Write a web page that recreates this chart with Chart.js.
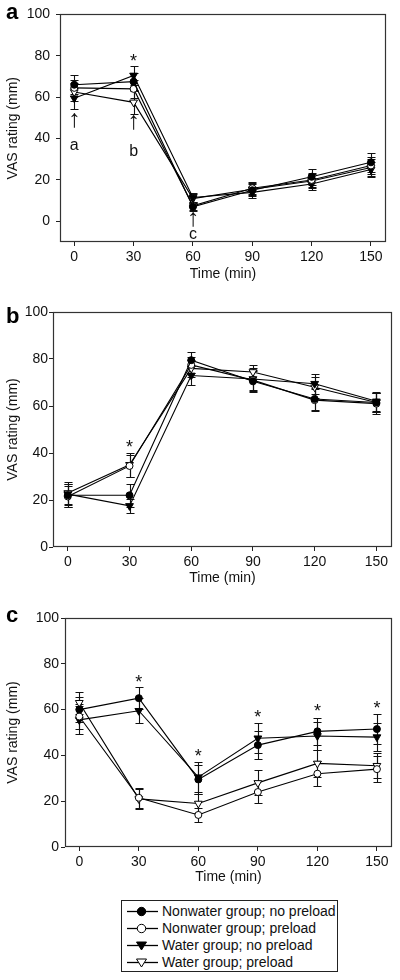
<!DOCTYPE html>
<html>
<head>
<meta charset="utf-8">
<script src="https://cdn.jsdelivr.net/npm/chart.js@4.4.1/dist/chart.umd.min.js"></script>
<style>
  html, body { margin: 0; padding: 0; background: #fff; }
  body { width: 400px; height: 980px; position: relative; overflow: hidden;
         font-family: "Liberation Sans", Arial, Helvetica, sans-serif; }
  canvas { position: absolute; left: 0; }
  #legend { position: absolute; left: 121px; top: 900px; width: 215px; height: 70px;
            border: 1px solid #222; }
  .lrow { position: absolute; left: 0; height: 17px; line-height: 17px; font-size: 14px; color: #111; white-space: nowrap; }
  .lrow svg { position: absolute; left: 0; top: 0; }
  .lrow span { position: absolute; left: 40px; top: 0; }
</style>
</head>
<body>
<canvas id="chartA" width="400" height="300" style="top:0px"></canvas>
<canvas id="chartB" width="400" height="300" style="top:300px"></canvas>
<canvas id="chartC" width="400" height="300" style="top:600px"></canvas>
<div id="legend"></div>

<script>
// ---------------- DATA ----------------
const TIMES = [0, 30, 60, 90, 120, 150];
const X_TICKS = [0, 30, 60, 90, 120, 150];
const Y_TICKS = [0, 20, 40, 60, 80, 100];
const SERIES_NAMES = [
  'Nonwater group; no preload',
  'Nonwater group; preload',
  'Water group; no preload',
  'Water group; preload'
];
const X_TITLE = 'Time (min)';
const Y_TITLE = 'VAS rating (mm)';

// Panel a
const A_NONWATER_NOPRELOAD = [66, 67.5, 7, 15, 21.5, 28.5];
const A_NONWATER_PRELOAD   = [64.5, 64, 7.5, 16, 20, 27];
const A_WATER_NOPRELOAD    = [59.5, 70.5, 11.5, 14, 18, 25];
const A_WATER_PRELOAD      = [62.5, 57.5, 11, 15.5, 19.5, 26];
const A_ERR_NONWATER_NOPRELOAD = [4.5, 4, 2, 3, 4, 4.5];
const A_ERR_NONWATER_PRELOAD   = [4, 4.5, 2, 3, 3.5, 4];
const A_ERR_WATER_NOPRELOAD    = [5, 4.5, 2, 2.5, 3, 3.5];
const A_ERR_WATER_PRELOAD      = [4.5, 5.5, 2, 3, 3.5, 4];

// Panel b
const B_NONWATER_NOPRELOAD = [22, 22, 79.5, 70.5, 63, 61.5];
const B_NONWATER_PRELOAD   = [21.5, 34.5, 77.5, 71, 62.5, 61];
const B_WATER_NOPRELOAD    = [22.5, 17.5, 73, 71.5, 69.5, 62];
const B_WATER_PRELOAD      = [23, 35, 76, 74.5, 68, 61.5];
const B_ERR_NONWATER_NOPRELOAD = [5, 4.8, 3.3, 4.5, 4.5, 4.2];
const B_ERR_NONWATER_PRELOAD   = [4.5, 4.5, 3.5, 4.5, 4.8, 4.5];
const B_ERR_WATER_NOPRELOAD    = [4.5, 3, 4, 4.5, 4.2, 4];
const B_ERR_WATER_PRELOAD      = [4.8, 5.2, 3.5, 3, 4.5, 4];

// Panel c
const C_NONWATER_NOPRELOAD = [60, 65, 29.5, 44.5, 50.5, 51.5];
const C_NONWATER_PRELOAD   = [57, 21.5, 14, 24, 32, 34];
const C_WATER_NOPRELOAD    = [55.5, 59.5, 30.5, 47.5, 48.5, 48];
const C_WATER_PRELOAD      = [63, 21, 19, 28, 36.5, 35.5];
const C_ERR_NONWATER_NOPRELOAD = [5.5, 4.8, 6.5, 6, 6, 6.5];
const C_ERR_NONWATER_PRELOAD   = [5.5, 4.3, 3, 4.7, 5.4, 5.8];
const C_ERR_WATER_NOPRELOAD    = [6, 5.5, 6.5, 6.5, 6, 6];
const C_ERR_WATER_PRELOAD      = [4.8, 4.5, 4.3, 5.5, 6, 5.5];

// Annotations (data units)
const A_STARS = [[30, 79.5]];
const A_NOTES = [[0, 49, '↑'], [30, 48, '↑'], [60, 1, '↑'], [0, 36.5, 'a'], [30, 33.6, 'b'], [60, -6.3, 'c']];
const B_STARS = [[30, 44.4]];
const C_STARS = [[30, 74], [60, 41.6], [90, 58.4], [120, 61.3], [150, 62.4]];

// ---------------- STYLE ----------------
const FONT = '"Liberation Sans", Arial, Helvetica, sans-serif';
const MARKERS = [
  { style: 'circle',   rot: 0,   r: 3.5, fill: '#000' },
  { style: 'circle',   rot: 0,   r: 3.5, fill: '#fff' },
  { style: 'triangle', rot: 180, r: 4.5, fill: '#000' },
  { style: 'triangle', rot: 180, r: 4.5, fill: '#fff' }
];

const deco = {
  id: 'deco',
  beforeDatasetsDraw(chart) {
    const { ctx, scales: { x, y } } = chart;
    ctx.save();
    ctx.strokeStyle = '#111';
    ctx.lineWidth = 1.1;
    chart.data.datasets.forEach(ds => {
      ds.data.forEach((p, i) => {
        const e = ds.err[i];
        const px = Math.round(x.getPixelForValue(p.x)) + 0.5;
        const y1 = Math.round(y.getPixelForValue(p.y + e)) + 0.5;
        const y2 = Math.round(y.getPixelForValue(p.y - e)) + 0.5;
        ctx.beginPath();
        ctx.moveTo(px, y1); ctx.lineTo(px, y2);
        ctx.moveTo(px - 4, y1); ctx.lineTo(px + 4, y1);
        ctx.moveTo(px - 4, y2); ctx.lineTo(px + 4, y2);
        ctx.stroke();
      });
    });
    ctx.restore();
  },
  afterDraw(chart, args, opts) {
    const { ctx, chartArea: a, scales: { x, y } } = chart;
    ctx.save();
    // frame
    ctx.strokeStyle = '#333';
    ctx.lineWidth = 1.2;
    const l = Math.round(a.left) + 0.5, t = Math.round(a.top) + 0.5;
    const r = Math.round(a.right) - 0.5, b = Math.round(a.bottom) - 0.5;
    ctx.strokeRect(l, t, r - l, b - t);
    // stars
    ctx.fillStyle = '#111';
    ctx.textAlign = 'center';
    ctx.textBaseline = 'alphabetic';
    ctx.font = '18px ' + FONT;
    (opts.stars || []).forEach(s => {
      ctx.fillText('*', x.getPixelForValue(s[0]), y.getPixelForValue(s[1]) + 10);
    });
    // notes
    ctx.textBaseline = 'middle';
    (opts.notes || []).forEach(n => {
      ctx.font = (n[2] === '↑' ? '25px ' : '16px ') + FONT;
      ctx.fillText(n[2], x.getPixelForValue(n[0]), y.getPixelForValue(n[1]));
    });
    // panel letter
    ctx.textAlign = 'left';
    ctx.textBaseline = 'alphabetic';
    ctx.font = 'bold 22px ' + FONT;
    ctx.fillStyle = '#000';
    ctx.fillText(opts.letter, opts.lx, opts.ly);
    ctx.restore();
  }
};

function buildChart(id, p) {
  const datasets = p.values.map((vals, i) => ({
    label: SERIES_NAMES[i],
    data: TIMES.map((t, j) => ({ x: t, y: vals[j] })),
    err: p.errors[i],
    borderColor: '#000',
    borderWidth: 1.1,
    tension: 0,
    fill: false,
    pointStyle: MARKERS[i].style,
    rotation: MARKERS[i].rot,
    pointRadius: MARKERS[i].r,
    pointHoverRadius: MARKERS[i].r,
    pointBackgroundColor: MARKERS[i].fill,
    pointBorderColor: '#000',
    pointBorderWidth: 1
  }));
  return new Chart(document.getElementById(id), {
    type: 'line',
    data: { datasets },
    options: {
      responsive: false,
      animation: false,
      devicePixelRatio: 1,
      layout: { padding: p.pad },
      events: [],
      plugins: {
        legend: { display: false },
        tooltip: { enabled: false },
        deco: { stars: p.stars, notes: p.notes, letter: p.letter, lx: p.lx, ly: p.ly }
      },
      scales: {
        x: {
          type: 'linear', min: -7.2, max: 157.6,
          afterBuildTicks: s => { s.ticks = X_TICKS.map(v => ({ value: v })); },
          afterFit: s => { s.height = p.xh; },
          grid: { drawOnChartArea: false, drawTicks: true, tickLength: 4, color: '#222' },
          border: { display: false },
          ticks: { padding: 3, color: '#111', font: { family: FONT, size: 14 }, maxRotation: 0 },
          title: { display: true, text: X_TITLE, color: '#111', font: { family: FONT, size: 14 }, padding: { top: 0, bottom: 4 } }
        },
        y: {
          type: 'linear', min: p.ymin, max: 100,
          afterBuildTicks: s => { s.ticks = Y_TICKS.map(v => ({ value: v })); },
          afterFit: s => { s.width = p.yw; },
          grid: { drawOnChartArea: false, drawTicks: true, tickLength: 4, color: '#222' },
          border: { display: false },
          ticks: { padding: p.ytp, color: '#111', font: { family: FONT, size: 14 } },
          title: { display: true, text: Y_TITLE, color: '#111', font: { family: FONT, size: 14 }, padding: { top: 5, bottom: 0 } }
        }
      }
    },
    plugins: [deco]
  });
}

buildChart('chartA', {
  values: [A_NONWATER_NOPRELOAD, A_NONWATER_PRELOAD, A_WATER_NOPRELOAD, A_WATER_PRELOAD],
  errors: [A_ERR_NONWATER_NOPRELOAD, A_ERR_NONWATER_PRELOAD, A_ERR_WATER_NOPRELOAD, A_ERR_WATER_PRELOAD],
  stars: A_STARS, notes: A_NOTES, letter: 'a', lx: 6, ly: 19,
  pad: { left: 0, right: 14, top: 14, bottom: 13 }, xh: 45, yw: 60, ytp: 6, ymin: -10
});
buildChart('chartB', {
  values: [B_NONWATER_NOPRELOAD, B_NONWATER_PRELOAD, B_WATER_NOPRELOAD, B_WATER_PRELOAD],
  errors: [B_ERR_NONWATER_NOPRELOAD, B_ERR_NONWATER_PRELOAD, B_ERR_WATER_NOPRELOAD, B_ERR_WATER_PRELOAD],
  stars: B_STARS, notes: [], letter: 'b', lx: 6, ly: 23,
  pad: { left: 0, right: 8, top: 12, bottom: 9 }, xh: 44, yw: 53, ytp: 1, ymin: 0
});
buildChart('chartC', {
  values: [C_NONWATER_NOPRELOAD, C_NONWATER_PRELOAD, C_WATER_NOPRELOAD, C_WATER_PRELOAD],
  errors: [C_ERR_NONWATER_NOPRELOAD, C_ERR_NONWATER_PRELOAD, C_ERR_WATER_NOPRELOAD, C_ERR_WATER_PRELOAD],
  stars: C_STARS, notes: [], letter: 'c', lx: 6, ly: 22,
  pad: { left: 0, right: 8, top: 18, bottom: 10 }, xh: 43, yw: 65, ytp: 2, ymin: 0
});

// ---------------- LEGEND ----------------
(function () {
  const leg = document.getElementById('legend');
  const rowCenters = [10, 27, 44, 61];
  SERIES_NAMES.forEach((name, i) => {
    const m = MARKERS[i];
    const row = document.createElement('div');
    row.className = 'lrow';
    row.style.top = (rowCenters[i] - 8.5) + 'px';
    row.style.width = '215px';
    let marker;
    if (m.style === 'circle') {
      marker = `<circle cx="19.5" cy="8.5" r="4.2" fill="${m.fill}" stroke="#000" stroke-width="1"/>`;
    } else {
      marker = `<polygon points="14.5,5 24.5,5 19.5,13" fill="${m.fill}" stroke="#000" stroke-width="1"/>`;
    }
    row.innerHTML = `<svg width="40" height="17"><line x1="5" y1="8.5" x2="36" y2="8.5" stroke="#000" stroke-width="1.3"/>${marker}</svg><span>${name}</span>`;
    leg.appendChild(row);
  });
})();
</script>
</body>
</html>
